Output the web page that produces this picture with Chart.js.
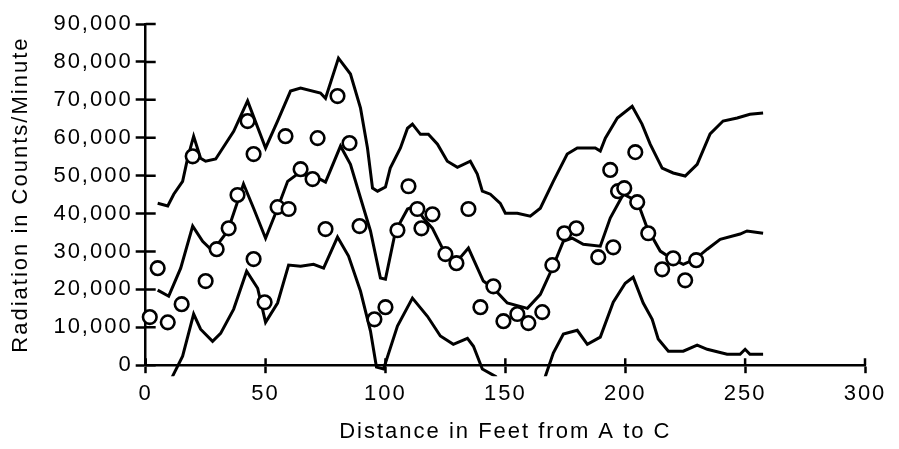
<!DOCTYPE html>
<html>
<head>
<meta charset="utf-8">
<script src="https://cdn.jsdelivr.net/npm/chart.js@4"></script>
<style>
  html, body { margin: 0; padding: 0; background: #fff; }
  #wrap { width: 899px; height: 449px; }
</style>
</head>
<body>
<div id="wrap"><canvas id="c" width="899" height="449"></canvas></div>
<script>
// ---- data (values in thousands of counts/minute, distance in feet) ----
const upperX = [5, 9.2, 11.7, 15.4, 17.5, 20, 22.9, 25, 29.2, 36.7, 42.5, 50, 55, 60.4, 64.6, 72.9, 75, 80.4, 85.4, 89.6, 92.5, 94.6, 96.7, 100, 102, 106.25, 109.2, 111.25, 114.6, 117.9, 121.7, 125.8, 130, 135.4, 138.3, 140.4, 143.75, 147.9, 150, 155, 160.4, 164.6, 170, 175.8, 180, 187.5, 189.6, 191.7, 196.7, 202.9, 207, 210.4, 215.4, 220, 225, 230, 235.4, 240.8, 246.7, 252, 257.5];
const upperY = [42.7, 42.0, 45.1, 48.5, 54.6, 60.4, 54.6, 53.8, 54.4, 61.7, 69.7, 57.3, 64.4, 72.3, 73.1, 71.8, 70.4, 81.0, 76.8, 67.8, 57.3, 46.7, 45.9, 47.0, 52.0, 57.3, 62.5, 63.6, 60.9, 60.9, 58.3, 53.8, 52.2, 53.8, 50.4, 45.9, 45.1, 42.7, 40.1, 40.1, 39.3, 41.4, 48.5, 55.7, 57.3, 57.3, 56.5, 59.9, 65.2, 68.3, 63.6, 58.3, 52.0, 50.7, 49.9, 53.0, 61.0, 64.4, 65.2, 66.2, 66.5];

const middleX = [5, 9.6, 14.6, 19.6, 23.75, 27.9, 34.2, 40.8, 45, 50, 55, 59.2, 63.3, 68.75, 72.9, 75, 81.25, 85.4, 89.6, 93.75, 97.9, 100, 104.2, 109.2, 112.5, 115.8, 119.6, 125, 129.2, 134.6, 140.8, 145, 150.8, 159.2, 164.6, 169.6, 174.2, 177.9, 182.5, 189.6, 193.75, 199.2, 205, 209.2, 214.6, 219.6, 224.2, 229.2, 234.2, 239.6, 247.9, 250.8, 257.5];
const middleY = [19.8, 18.2, 25.6, 36.7, 32.7, 30.1, 35.4, 47.8, 41.4, 33.5, 41.4, 48.5, 50.4, 50.0, 49.0, 48.3, 57.8, 53.0, 44.1, 35.4, 23.0, 22.7, 35.4, 41.2, 42.0, 38.8, 36.1, 29.3, 26.9, 30.9, 22.2, 20.3, 16.4, 15.0, 18.7, 25.6, 32.7, 33.5, 31.9, 31.4, 38.8, 45.1, 43.3, 36.1, 30.1, 28.0, 26.6, 28.0, 30.6, 33.2, 34.6, 35.4, 34.8];

const lowerX = [5, 11.25, 15.4, 20, 22.9, 27.9, 31.25, 36.7, 42.1, 46.7, 50, 55, 59.6, 64.6, 70, 74.2, 80, 84.6, 89.6, 93.75, 96.25, 99.2, 105, 111.25, 117.5, 122.9, 128.3, 134.2, 136.7, 140.4, 146, 152, 158, 162, 166.7, 170, 174.2, 180, 184.2, 189.6, 195, 200, 203.3, 207.5, 211.25, 213.75, 218, 224.2, 230, 234.2, 242.5, 247.9, 250, 252, 257.5];
const lowerY = [-12, -2.9, 2.4, 13.5, 9.5, 6.3, 8.4, 14.8, 24.8, 20.3, 11.3, 16.4, 26.4, 26.1, 26.6, 25.6, 33.8, 28.8, 19.5, 9.0, -0.5, -1.0, 10.3, 17.7, 12.9, 7.7, 5.5, 7.1, 5.0, -1.0, -3.0, -15, -16, -12, -2.9, 3.2, 8.2, 9.2, 5.5, 7.4, 16.6, 21.6, 23.2, 16.4, 12.1, 6.9, 3.7, 3.7, 5.3, 4.2, 2.9, 2.9, 4.2, 2.9, 2.9];

const sampleX = [1.7, 5, 9.2, 15, 19.6, 25, 29.6, 34.6, 38.3, 42.5, 45, 45, 49.6, 55, 58.3, 59.6, 64.6, 69.6, 71.7, 75, 80, 85, 89.2, 95.4, 100, 105, 109.6, 113.3, 115, 119.6, 125, 129.6, 134.6, 139.6, 145, 149.2, 155, 159.6, 165.4, 169.6, 174.6, 179.6, 188.75, 193.75, 195, 197, 199.6, 204.2, 205, 209.6, 215.4, 220, 225, 229.6];
const sampleY = [12.7, 25.6, 11.3, 16.1, 55.1, 22.2, 30.6, 36.1, 44.9, 64.4, 55.7, 28.0, 16.6, 41.7, 60.4, 41.2, 51.7, 49.1, 59.9, 35.9, 71.0, 58.6, 36.7, 12.1, 15.3, 35.6, 47.2, 41.2, 36.1, 39.8, 29.3, 26.9, 41.2, 15.3, 20.8, 11.6, 13.5, 11.1, 14.0, 26.4, 34.8, 36.1, 28.5, 51.5, 31.1, 45.9, 46.7, 56.2, 43.0, 34.8, 25.3, 28.2, 22.4, 27.7];

const xTickLabels = ['0', '50', '100', '150', '200', '250', '300'];
const yTickLabels = ['0', '10,000', '20,000', '30,000', '40,000', '50,000', '60,000', '70,000', '80,000', '90,000'];
const xTitle = 'Distance in Feet from A to C';
const yTitle = 'Radiation in Counts/Minute';

// ---- build ----
const pts = (xs, ys) => xs.map((x, i) => ({ x: x, y: ys[i] * 1000 }));

const INK = '#000';
const FONT = "'Liberation Sans', Arial, Helvetica, sans-serif";

const spacingPlugin = {
  id: 'spacing',
  beforeUpdate(chart) { chart.ctx.letterSpacing = '2px'; },
  beforeDraw(chart) { chart.ctx.letterSpacing = '2px'; }
};

// inner half of the crossing tick marks
const innerTicks = {
  id: 'innerTicks',
  beforeDatasetsDraw(chart) {
    const ctx = chart.ctx, xs = chart.scales.x, ys = chart.scales.y, a = chart.chartArea;
    ctx.save();
    ctx.strokeStyle = INK;
    ctx.lineWidth = 2.5;
    ctx.beginPath();
    ys.ticks.forEach(t => {
      const py = ys.getPixelForValue(t.value);
      ctx.moveTo(a.left, py); ctx.lineTo(a.left + 10, py);
    });
    xs.ticks.forEach(t => {
      const px = xs.getPixelForValue(t.value);
      ctx.moveTo(px, a.bottom); ctx.lineTo(px, a.bottom - 7);
    });
    ctx.stroke();
    ctx.restore();
  }
};

const lineStyle = {
  showLine: true, borderColor: INK, borderWidth: 3, pointRadius: 0, fill: false,
  tension: 0, clip: { left: 10, top: 10, right: 10, bottom: 11 }
};

new Chart(document.getElementById('c'), {
  type: 'scatter',
  data: {
    datasets: [
      { label: 'Samples', data: pts(sampleX, sampleY), showLine: false,
        pointRadius: 6.8, pointBorderWidth: 2.6, pointBorderColor: INK,
        pointBackgroundColor: '#fff', clip: false },
      Object.assign({ label: 'Upper', data: pts(upperX, upperY) }, lineStyle),
      Object.assign({ label: 'Mean', data: pts(middleX, middleY) }, lineStyle),
      Object.assign({ label: 'Lower', data: pts(lowerX, lowerY) }, lineStyle)
    ]
  },
  options: {
    responsive: false,
    animation: false,
    devicePixelRatio: 1,
    layout: { padding: { left: 8, right: 34, top: 24, bottom: 0 } },
    plugins: { legend: { display: false }, tooltip: { enabled: false } },
    scales: {
      x: {
        type: 'linear', min: 0, max: 300,
        ticks: { stepSize: 50, color: INK, padding: 8,
                 font: { family: FONT, size: 22 },
                 callback: (v) => xTickLabels[Math.round(v / 50)] },
        grid: { display: true, drawOnChartArea: false, drawTicks: true, tickLength: 8,
                color: INK, tickWidth: 2.5 },
        border: { display: true, color: INK, width: 2.5 },
        title: { display: true, text: xTitle, color: INK, padding: { top: 3, bottom: 4 },
                 font: { family: FONT, size: 22 } }
      },
      y: {
        type: 'linear', min: 0, max: 90000,
        ticks: { stepSize: 10000, color: INK, padding: 3,
                 font: { family: FONT, size: 22 },
                 callback: (v) => yTickLabels[Math.round(v / 10000)] },
        grid: { display: true, drawOnChartArea: false, drawTicks: true, tickLength: 10,
                color: INK, tickWidth: 2.5 },
        border: { display: true, color: INK, width: 2.5 },
        title: { display: true, text: yTitle, color: INK, padding: { top: 0, bottom: 16 },
                 font: { family: FONT, size: 22 } }
      }
    }
  },
  plugins: [spacingPlugin, innerTicks]
});
</script>
</body>
</html>
